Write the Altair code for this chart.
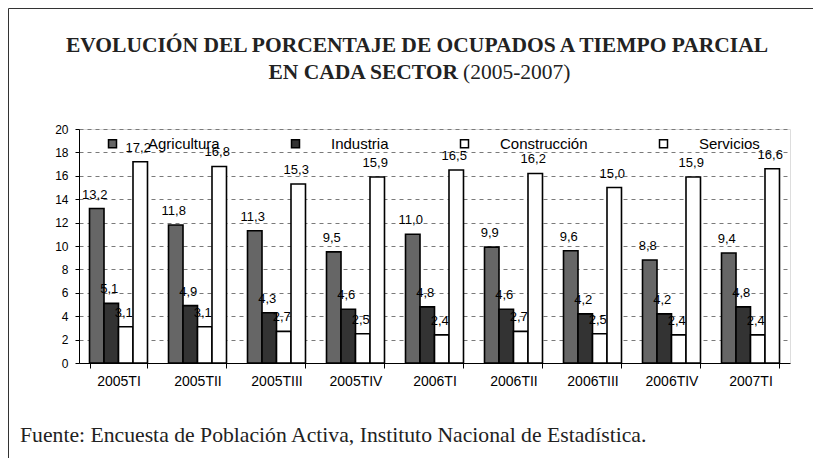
import altair as alt
import pandas as pd

categories = ["2005TI", "2005TII", "2005TIII", "2005TIV", "2006TI",
              "2006TII", "2006TIII", "2006TIV", "2007TI"]
series = ["Agricultura", "Industria", "Construcción", "Servicios"]
agricultura = [13.2, 11.8, 11.3, 9.5, 11.0, 9.9, 9.6, 8.8, 9.4]
industria = [5.1, 4.9, 4.3, 4.6, 4.8, 4.6, 4.2, 4.2, 4.8]
construccion = [3.1, 3.1, 2.7, 2.5, 2.4, 2.7, 2.5, 2.4, 2.4]
servicios = [17.2, 16.8, 15.3, 15.9, 16.5, 16.2, 15.0, 15.9, 16.6]
colors = ["#666666", "#333333", "#ffffff", "#ffffff"]

title1 = "EVOLUCIÓN DEL PORCENTAJE DE OCUPADOS A TIEMPO PARCIAL"
title2_bold = "EN CADA SECTOR"
title2_regular = "(2005-2007)"
footnote = "Fuente: Encuesta de Población Activa, Instituto Nacional de Estadística."

rows = []
for name, vals in zip(series, [agricultura, industria, construccion, servicios]):
    for c, v in zip(categories, vals):
        rows.append({"cat": c, "serie": name, "valor": v,
                     "label": f"{v:.1f}".replace(".", ",")})
df = pd.DataFrame(rows)

W, H = 711, 234

base = alt.Chart(df).encode(
    x=alt.X("cat:N", sort=categories,
            scale=alt.Scale(paddingInner=0.266, paddingOuter=0.133),
            axis=alt.Axis(title=None, labelFont="Liberation Sans", labelFontSize=14,
                          labelColor="black", domainColor="black", domainWidth=1,
                          tickColor="black", tickSize=5, tickBand="extent",
                          labelPadding=6, labelAngle=0, grid=False)),
    xOffset=alt.XOffset("serie:N", sort=series,
                        scale=alt.Scale(paddingInner=0, paddingOuter=0)),
    y=alt.Y("valor:Q", scale=alt.Scale(domain=[0, 20], nice=False),
            axis=alt.Axis(title=None, values=list(range(0, 21, 2)),
                          labelFont="Liberation Sans", labelFontSize=12,
                          labelColor="black", domainColor="black", tickColor="black",
                          tickSize=4, labelPadding=7, grid=True, gridDash=[4, 4],
                          gridColor="#7a7a7a", gridWidth=1)),
)

bars = base.mark_bar(stroke="black", strokeWidth=1.6).encode(
    color=alt.Color("serie:N", sort=series,
                    scale=alt.Scale(domain=series, range=colors),
                    legend=alt.Legend(title=None, orient="none", legendX=26, legendY=7,
                                      direction="horizontal", columns=4,
                                      symbolType="square", symbolSize=64,
                                      symbolStrokeColor="black", symbolStrokeWidth=1.5,
                                      labelOffset=28, columnPadding=68,
                                      labelFont="Liberation Sans", labelFontSize=15,
                                      labelColor="black", padding=0))
)

labels = base.mark_text(dy=-10, dx=-2, baseline="alphabetic", font="Liberation Sans",
                        fontSize=13, color="black").encode(text="label:N")

one = pd.DataFrame({"t": [""]})

t1 = alt.Chart(one).mark_text(text=title1, font="Liberation Serif", fontWeight="bold",
                              fontSize=21.5, align="center", baseline="alphabetic",
                              color="#222222").encode(x=alt.value(338), y=alt.value(-77))
t2a = alt.Chart(one).mark_text(text=title2_bold, font="Liberation Serif", fontWeight="bold",
                               fontSize=21.5, align="right", baseline="alphabetic",
                               color="#222222").encode(x=alt.value(379), y=alt.value(-50))
t2b = alt.Chart(one).mark_text(text=title2_regular, font="Liberation Serif",
                               fontSize=21.5, align="left", baseline="alphabetic",
                               color="#222222").encode(x=alt.value(384), y=alt.value(-50))
fn = alt.Chart(one).mark_text(text=footnote, font="Liberation Serif", fontSize=21.7,
                              align="left", baseline="alphabetic",
                              color="#222222").encode(x=alt.value(-59), y=alt.value(313))

frame_left = alt.Chart(one).mark_rule(color="#333333", strokeWidth=1).encode(
    x=alt.value(-70.5), y=alt.value(-120.5), y2=alt.value(400))
frame_top = alt.Chart(one).mark_rule(color="#333333", strokeWidth=1).encode(
    x=alt.value(-70.5), x2=alt.value(800), y=alt.value(-120.5))

chart = alt.layer(bars, labels, t1, t2a, t2b, fn, frame_left, frame_top).properties(
    width=W, height=H,
    autosize=alt.AutoSizeParams(type="none"),
    padding={"left": 71, "top": 121, "right": 23, "bottom": 95},
).configure_view(stroke=None).configure(background="white")

chart.save("out.html", embed_options={"renderer": "svg", "actions": False})
